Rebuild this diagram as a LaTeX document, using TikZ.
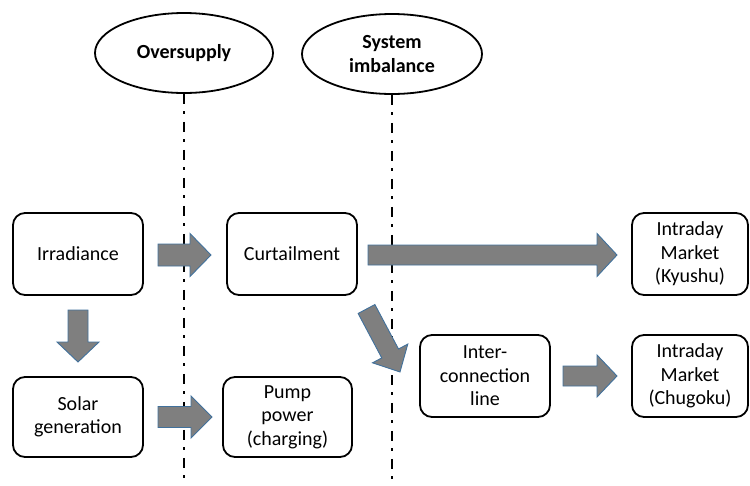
\documentclass[tikz,border=0pt]{standalone}
\usepackage{fontspec}
\setmainfont{Carlito}
\usetikzlibrary{shapes.geometric,calc}
\definecolor{arrfill}{HTML}{7F7F7F}
\definecolor{arrline}{HTML}{41719C}
\tikzset{
  box/.style={draw=black, line width=1.8pt, rounded corners=12pt, align=center,
    inner sep=0pt, font=\fontsize{20}{23.5}\selectfont},
  oval/.style={draw=black, line width=1.8pt, ellipse, inner sep=0pt, align=center,
    font=\bfseries\fontsize{20}{23.5}\selectfont},
  dashdotline/.style={line width=2pt, dash pattern=on 10pt off 7.5pt on 3pt off 7.5pt},
  blockarrow/.style={fill=arrfill, draw=arrline, line width=0.9pt, line join=miter}
}
% block arrow from #1 to #2; #3 shaft half width, #4 head half width, #5 head length
\newcommand\blockarr[5]{%
  \path (#1); \pgfgetlastxy{\bax}{\bay}%
  \path (#2); \pgfgetlastxy{\bbx}{\bby}%
  \pgfmathsetmacro\bang{atan2(\bby-\bay,\bbx-\bax)}%
  \pgfmathsetmacro\blen{veclen(\bbx-\bax,\bby-\bay)}%
  \begin{scope}[shift={(#1)},rotate=\bang]
    \draw[blockarrow] (0pt,-#3pt) -- ({\blen pt-#5pt},-#3pt) -- ({\blen pt-#5pt},-#4pt)
      -- (\blen pt,0pt) -- ({\blen pt-#5pt},#4pt) -- ({\blen pt-#5pt},#3pt) -- (0pt,#3pt) -- cycle;
  \end{scope}}
\begin{document}
\begin{tikzpicture}[x=1pt,y=-1pt]
\useasboundingbox (0,0) rectangle (750,485);
% ellipses
\node[oval, minimum width=178pt, minimum height=80pt] (over) at (184,53) {Oversupply};
\node[oval, minimum width=180pt, minimum height=80pt] (imb) at (392,54) {System\\imbalance};
\coordinate (l1end) at (184,485);
\coordinate (l2end) at (392,485);
\draw[dashdotline] (over.south) -- (l1end);
\draw[dashdotline] (imb.south) -- (l2end);
% boxes
\node[box, minimum width=130pt, minimum height=82pt] (irr) at (78,254) {Irradiance};
\node[box, minimum width=130pt, minimum height=82pt] (curt) at (292,254) {Curtailment};
\node[box, minimum width=116pt, minimum height=82pt] (kyu) at (690,254) {Intraday\\Market\\(Kyushu)};
\node[box, minimum width=130pt, minimum height=80pt] (solar) at (78,417) {Solar\\generation};
\node[box, minimum width=129pt, minimum height=80pt] (pump) at (287.5,417) {Pump\\power\\(charging)};
\node[box, minimum width=130pt, minimum height=82pt] (inter) at (485,376) {Inter-\\connection\\line};
\node[box, minimum width=116pt, minimum height=82pt] (chu) at (690,376) {Intraday\\Market\\(Chugoku)};
% arrow end points
\coordinate (a1s) at (158,255); \coordinate (a1e) at (211,255);
\coordinate (a2s) at (368,255); \coordinate (a2e) at (617,255);
\coordinate (a3s) at (78,310);  \coordinate (a3e) at (78,362);
\coordinate (a4s) at (158,417); \coordinate (a4e) at (212,417);
\coordinate (a5s) at (563,376); \coordinate (a5e) at (617,376);
\coordinate (a6s) at (366.5,309); \coordinate (a6e) at (400,372);
\blockarr{a1s}{a1e}{11}{21.5}{21}
\blockarr{a2s}{a2e}{10}{21.5}{20}
\blockarr{a3s}{a3e}{10}{21}{20}
\blockarr{a4s}{a4e}{10.5}{21}{21}
\blockarr{a5s}{a5e}{10}{21}{20}
\blockarr{a6s}{a6e}{9.5}{20}{21}
\end{tikzpicture}
\end{document}
